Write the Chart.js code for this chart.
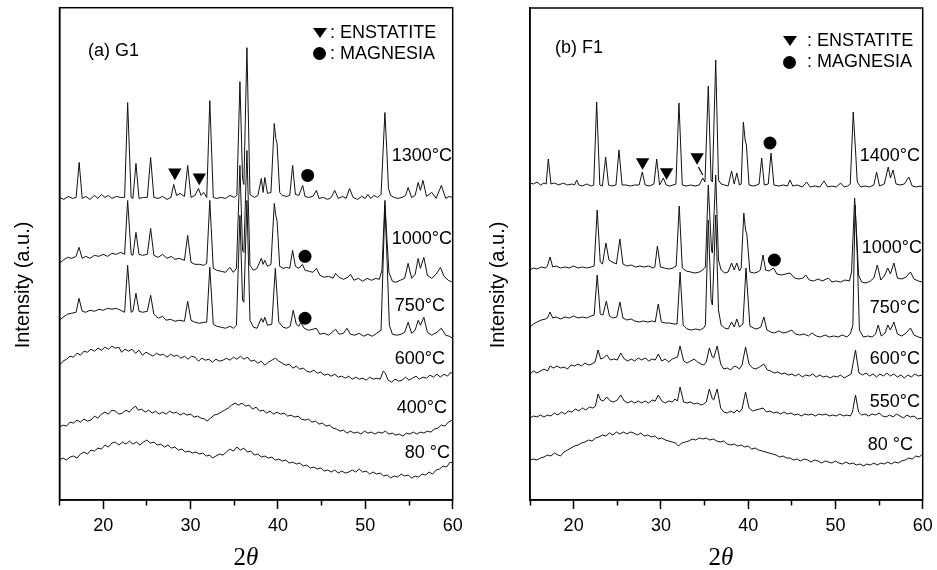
<!DOCTYPE html>
<html>
<head>
<meta charset="utf-8">
<title>XRD patterns - G1 / F1</title>
<script src="https://cdn.jsdelivr.net/npm/chart.js"></script>
<style>
  body { margin: 0; background: #fff; }
  #page { position: relative; width: 937px; height: 570px; overflow: hidden; }
  canvas { position: absolute; top: 0; }
  .t { position: absolute; font: 18px 'Liberation Sans', Arial, sans-serif; line-height: 18px; white-space: nowrap; color: #000; }
  .tri { position: absolute; width: 0; height: 0; border-left: 7px solid transparent; border-right: 7px solid transparent; border-top: 10px solid #000; }
  .dot { position: absolute; width: 13px; height: 13px; border-radius: 50%; background: #000; }
  .xt { position: absolute; width: 100px; text-align: center; font: 25px 'Liberation Serif', 'Times New Roman', serif; line-height: 26px; }
  .yt { position: absolute; width: 200px; margin-left: -100px; text-align: center; font: 20px 'Liberation Sans', Arial, sans-serif; line-height: 20px; margin-top: -10px; transform: rotate(-90deg); white-space: nowrap; }
</style>
</head>
<body>
<div id="page">
  <canvas id="g1" width="468" height="570" style="left:0"></canvas>
  <canvas id="f1" width="469" height="570" style="left:468px"></canvas>

  <!-- panel (a) -->
  <div class="yt" style="left:22px;top:285px">Intensity (a.u.)</div>
  <div class="t" style="left:88px;top:41px">(a) G1</div>
  <div class="tri" style="left:313px;top:28px"></div>
  <div class="t" style="left:330px;top:23px">: ENSTATITE</div>
  <div class="dot" style="left:313px;top:47px"></div>
  <div class="t" style="left:330px;top:44px">: MAGNESIA</div>
  <div class="t" style="right:485px;top:146px">1300°C</div>
  <div class="t" style="right:485px;top:229px">1000°C</div>
  <div class="t" style="right:492px;top:296px">750°C</div>
  <div class="t" style="right:492px;top:349px">600°C</div>
  <div class="t" style="right:490px;top:398px">400°C</div>
  <div class="t" style="right:487px;top:443px">80 °C</div>
  <div class="xt" style="left:196px;top:544px">2<i>θ</i></div>

  <!-- panel (b) -->
  <div class="yt" style="left:497px;top:285px">Intensity (a.u.)</div>
  <div class="t" style="left:555px;top:38px">(b) F1</div>
  <div class="tri" style="left:783px;top:36px"></div>
  <div class="t" style="left:807px;top:31px">: ENSTATITE</div>
  <div class="dot" style="left:783px;top:56px"></div>
  <div class="t" style="left:807px;top:52px">: MAGNESIA</div>
  <div class="t" style="right:17px;top:146px">1400°C</div>
  <div class="t" style="right:15px;top:238px">1000°C</div>
  <div class="t" style="right:17px;top:298px">750°C</div>
  <div class="t" style="right:17px;top:349px">600°C</div>
  <div class="t" style="right:17px;top:392px">550°C</div>
  <div class="t" style="right:24px;top:435px">80 °C</div>
  <div class="xt" style="left:671px;top:544px">2<i>θ</i></div>
</div>

<script>
// 2-theta range and labelled ticks (minor ticks every 5 deg)
const thetaMin = 15;
const thetaMax = 60;
const labelledTicks = [20, 30, 40, 50, 60];

// ---- G1 patterns, [2theta, intensity], stacked offsets included ----
const g1_80 = [[15.0,40],[15.4,42],[15.8,40],[16.2,43],[16.6,44],[17.0,42],[17.4,46],[17.8,48],[18.2,46],[18.6,50],[19.0,49],[19.4,52],[19.8,51],[20.2,55],[20.6,53],[21.0,57],[21.4,58],[21.8,55],[22.2,58],[22.6,56],[23.0,59],[23.4,56],[23.8,58],[24.2,55],[24.6,58],[25.0,60],[25.4,57],[25.8,58],[26.2,55],[26.6,56],[27.0,53],[27.4,55],[27.8,52],[28.2,53],[28.6,50],[29.0,51],[29.4,48],[29.8,49],[30.2,47],[30.6,48],[31.0,46],[31.4,47],[31.8,44],[32.2,45],[32.5,42],[32.9,44],[33.3,46],[33.7,45],[34.1,48],[34.5,51],[34.9,49],[35.3,53],[35.7,50],[36.1,52],[36.5,48],[36.9,49],[37.3,45],[37.7,46],[38.1,43],[38.5,44],[38.9,42],[39.3,43],[39.7,40],[40.1,41],[40.5,39],[40.9,40],[41.3,37],[41.7,38],[42.1,36],[42.5,37],[42.9,34],[43.3,35],[43.7,32],[44.1,33],[44.5,31],[44.9,32],[45.3,29],[45.7,30],[46.1,28],[46.5,30],[46.9,27],[47.3,29],[47.7,27],[48.1,28],[48.5,30],[48.9,28],[49.3,31],[49.7,28],[50.1,29],[50.5,26],[50.9,28],[51.3,26],[51.7,27],[52.1,24],[52.5,25],[52.9,22],[53.3,24],[53.7,23],[54.1,26],[54.5,24],[54.9,25],[55.3,22],[55.7,24],[56.1,23],[56.5,26],[56.9,25],[57.3,28],[57.7,26],[58.1,30],[58.5,31],[58.9,34],[59.3,33],[59.7,38],[60.0,37]];

const g1_400 = [[15.0,73],[15.4,75],[15.8,74],[16.2,78],[16.6,77],[17.0,80],[17.4,78],[17.8,81],[18.2,79],[18.6,80],[19.0,84],[19.4,82],[19.8,86],[20.2,88],[20.6,86],[21.0,90],[21.4,89],[21.8,86],[22.2,87],[22.6,90],[23.0,88],[23.4,92],[23.7,94],[24.0,90],[24.4,91],[24.8,88],[25.2,90],[25.6,87],[26.0,89],[26.4,86],[26.8,88],[27.2,86],[27.6,89],[28.0,87],[28.4,88],[28.8,85],[29.2,87],[29.6,85],[30.0,86],[30.4,83],[30.8,84],[31.2,82],[31.6,81],[31.9,79],[32.3,82],[32.7,85],[33.1,86],[33.5,88],[33.9,90],[34.3,92],[34.7,95],[35.1,97],[35.5,95],[35.9,97],[36.3,94],[36.7,95],[37.1,91],[37.5,93],[37.9,89],[38.3,90],[38.7,87],[39.1,89],[39.5,86],[39.9,88],[40.3,86],[40.7,87],[41.1,84],[41.5,85],[41.9,83],[42.3,84],[42.7,81],[43.1,80],[43.5,81],[43.9,78],[44.3,79],[44.7,76],[45.1,77],[45.5,74],[45.9,75],[46.3,72],[46.7,71],[47.1,69],[47.5,70],[47.9,67],[48.3,69],[48.7,67],[49.1,68],[49.5,66],[49.9,69],[50.3,67],[50.7,68],[51.1,66],[51.5,68],[51.9,67],[52.3,69],[52.7,66],[53.1,67],[53.5,65],[53.9,66],[54.3,64],[54.7,67],[55.1,66],[55.5,68],[55.9,66],[56.3,68],[56.7,67],[57.1,69],[57.5,68],[57.9,71],[58.3,72],[58.7,75],[59.1,74],[59.5,78],[60.0,80]];

const g1_600 = [[15.0,135],[15.4,139],[15.8,141],[16.2,144],[16.6,143],[17.0,147],[17.4,145],[17.8,149],[18.2,148],[18.6,151],[19.0,149],[19.4,152],[19.8,150],[20.2,153],[20.6,151],[21.0,154],[21.4,152],[21.8,153],[22.1,148],[22.5,151],[22.9,149],[23.3,151],[23.7,147],[24.1,150],[24.5,145],[24.9,148],[25.3,146],[25.7,144],[26.1,147],[26.5,145],[26.9,146],[27.3,143],[27.7,146],[28.1,144],[28.5,145],[28.9,142],[29.3,144],[29.7,141],[30.1,144],[30.5,143],[30.9,139],[31.3,142],[31.7,140],[32.1,141],[32.5,138],[32.9,141],[33.3,139],[33.7,140],[34.1,142],[34.5,140],[34.9,143],[35.3,141],[35.7,144],[36.1,141],[36.5,143],[36.9,139],[37.3,140],[37.7,137],[38.1,139],[38.5,135],[38.9,138],[39.3,140],[39.7,142],[40.1,139],[40.5,137],[40.9,135],[41.3,136],[41.7,132],[42.1,134],[42.5,131],[42.9,132],[43.3,129],[43.7,128],[44.1,130],[44.5,127],[44.9,128],[45.3,125],[45.7,126],[46.1,124],[46.5,126],[46.9,123],[47.3,124],[47.7,122],[48.1,124],[48.5,121],[48.9,123],[49.3,121],[49.7,122],[50.1,120],[50.5,123],[50.9,121],[51.3,122],[51.7,121],[52.05,129],[52.3,127],[52.6,120],[53.0,118],[53.4,121],[53.8,119],[54.2,120],[54.6,123],[55.0,120],[55.4,122],[55.8,124],[56.2,121],[56.6,123],[57.0,122],[57.4,125],[57.8,123],[58.2,126],[58.6,123],[59.0,126],[59.4,124],[59.8,128],[60.0,126]];

const g1_750 = [[15.0,180],[15.4,183],[15.9,186],[16.4,187],[16.9,188],[17.23,202],[17.6,189],[18.0,188],[18.5,190],[19.0,189],[19.5,191],[20.0,190],[20.5,192],[21.0,191],[21.5,192],[22.0,190],[22.45,188],[22.8,235],[23.2,188],[23.4,189],[23.75,207],[24.1,189],[24.5,188],[25.05,189],[25.43,205],[25.8,186],[26.3,182],[26.8,184],[27.2,180],[27.7,181],[28.2,179],[28.7,180],[29.3,179],[29.67,199],[30.05,180],[30.5,178],[31.0,177],[31.5,178],[31.85,178],[32.2,233],[32.6,176],[33.0,174],[33.5,173],[34.0,172],[34.5,174],[34.9,172],[35.25,175],[35.65,285],[35.95,200],[36.1,198],[36.45,300],[36.8,180],[37.2,173],[37.6,172],[38.1,182],[38.3,178],[38.5,183],[38.8,175],[39.3,176],[39.7,232],[40.1,178],[40.6,173],[41.0,172],[41.4,174],[41.75,190],[42.1,176],[42.4,174],[42.6,178],[43.0,172],[43.5,170],[44.0,171],[44.4,172],[44.8,166],[45.3,167],[45.8,165],[46.2,168],[46.6,171],[47.0,166],[47.5,167],[47.9,172],[48.3,166],[48.8,165],[49.3,167],[49.8,164],[50.3,166],[50.8,164],[51.3,167],[51.8,170],[52.24,295],[52.45,250],[52.75,175],[53.1,166],[53.6,165],[54.1,166],[54.5,168],[54.9,178],[55.3,167],[55.7,170],[56.05,180],[56.3,175],[56.7,183],[57.1,168],[57.6,165],[58.2,168],[58.7,172],[59.2,165],[59.6,164],[60.0,162]];

const g1_1000 = [[15.0,237],[15.4,240],[15.9,243],[16.4,242],[16.9,244],[17.23,253],[17.6,242],[18.0,244],[18.5,242],[19.0,245],[19.5,244],[20.0,246],[20.5,244],[21.0,247],[21.5,246],[22.0,248],[22.45,246],[22.8,300],[23.2,246],[23.4,245],[23.75,268],[24.1,246],[24.5,245],[25.05,246],[25.43,272],[25.8,245],[26.3,243],[26.8,246],[27.3,242],[27.8,244],[28.2,241],[28.7,242],[29.3,240],[29.67,265],[30.05,238],[30.5,236],[31.0,236],[31.5,235],[31.85,237],[32.2,300],[32.6,232],[33.0,230],[33.5,229],[34.0,228],[34.5,233],[34.9,228],[35.25,232],[35.65,335],[35.95,250],[36.1,248],[36.45,350],[36.8,235],[37.2,230],[37.6,232],[38.1,242],[38.3,236],[38.5,240],[38.8,234],[39.2,236],[39.58,297],[39.75,285],[39.9,280],[40.2,234],[40.6,232],[41.0,233],[41.35,232],[41.68,250],[42.0,234],[42.4,232],[42.8,236],[43.1,230],[43.6,229],[44.0,228],[44.4,232],[44.8,225],[45.3,223],[45.8,224],[46.3,222],[46.6,227],[47.0,223],[47.5,221],[48.0,223],[48.3,226],[48.7,220],[49.2,222],[49.7,219],[50.2,222],[50.7,220],[51.2,222],[51.6,221],[51.9,230],[52.24,300],[52.45,265],[52.7,228],[53.1,219],[53.5,218],[54.0,220],[54.5,222],[54.9,237],[55.3,222],[55.7,226],[56.05,242],[56.3,232],[56.7,243],[57.1,225],[57.6,222],[58.1,226],[58.6,233],[59.0,224],[59.5,220],[60.0,218]];

const g1_1300 = [[15.0,303],[15.5,301],[16.0,304],[16.5,302],[16.9,303],[17.25,338],[17.6,302],[18.0,304],[18.5,301],[19.0,305],[19.4,302],[19.8,306],[20.2,303],[20.6,305],[21.0,302],[21.5,304],[22.0,303],[22.45,303],[22.8,398],[23.2,303],[23.4,302],[23.75,337],[24.1,302],[24.6,303],[25.05,303],[25.43,343],[25.8,303],[26.3,302],[26.8,304],[27.3,301],[27.75,303],[28.07,316],[28.4,305],[28.8,307],[29.3,304],[29.67,335],[30.05,303],[30.5,305],[30.9,312],[31.2,305],[31.5,308],[31.85,303],[32.2,400],[32.6,303],[33.0,302],[33.5,303],[34.0,302],[34.5,305],[35.0,303],[35.3,305],[35.65,419],[35.95,322],[36.1,316],[36.45,453],[36.8,306],[37.3,303],[37.7,305],[38.1,322],[38.3,308],[38.5,323],[38.8,307],[39.2,308],[39.58,377],[39.75,362],[39.9,357],[40.2,308],[40.5,305],[41.0,304],[41.35,305],[41.68,335],[42.0,306],[42.4,305],[42.83,315],[43.1,304],[43.5,303],[44.0,304],[44.4,310],[44.7,302],[45.2,303],[45.7,301],[46.1,303],[46.5,310],[46.9,302],[47.4,304],[47.8,302],[48.2,312],[48.6,303],[49.1,301],[49.6,304],[50.0,302],[50.3,306],[50.6,302],[51.0,305],[51.4,303],[51.8,306],[52.24,388],[52.45,352],[52.65,312],[52.9,305],[53.3,303],[53.7,302],[54.2,303],[54.6,305],[54.9,313],[55.3,303],[55.7,305],[56.05,318],[56.3,310],[56.6,320],[57.0,304],[57.6,308],[58.1,302],[58.7,315],[59.2,302],[59.6,304],[60.0,303]];

// phase markers for G1
const g1Enstatite = [[28.2,328],[31.0,323]];
const g1Magnesia = [[43.4,325],[43.1,244],[43.1,182]];

// ---- F1 patterns ----
const f1_80 = [[15.0,40],[15.4,41],[15.8,40],[16.2,42],[16.6,43],[17.0,45],[17.4,44],[17.8,47],[18.2,45],[18.5,44],[18.9,48],[19.3,50],[19.7,52],[20.1,54],[20.5,55],[20.9,57],[21.3,58],[21.7,60],[22.1,59],[22.5,62],[22.9,63],[23.3,65],[23.7,64],[24.1,67],[24.5,65],[24.9,68],[25.3,66],[25.7,68],[26.1,66],[26.5,68],[26.9,67],[27.3,65],[27.7,67],[28.1,64],[28.5,65],[28.9,63],[29.3,64],[29.7,61],[30.1,62],[30.5,60],[30.9,59],[31.3,58],[31.7,57],[32.0,54],[32.4,57],[32.8,58],[33.2,59],[33.6,61],[34.0,60],[34.4,62],[34.8,61],[35.2,62],[35.6,60],[36.0,61],[36.4,59],[36.8,58],[37.2,59],[37.6,56],[38.0,55],[38.4,56],[38.8,54],[39.2,55],[39.6,53],[40.0,54],[40.4,51],[40.8,52],[41.2,50],[41.6,49],[42.0,48],[42.4,47],[42.8,46],[43.2,45],[43.6,43],[44.0,44],[44.4,42],[44.8,42],[45.2,40],[45.6,41],[46.0,39],[46.4,41],[46.8,40],[47.2,38],[47.6,40],[48.0,39],[48.4,37],[48.8,39],[49.2,38],[49.6,37],[50.0,39],[50.4,37],[50.8,36],[51.2,38],[51.6,36],[52.0,37],[52.4,35],[52.8,36],[53.2,34],[53.6,36],[54.0,35],[54.4,37],[54.8,35],[55.2,37],[55.6,36],[56.0,38],[56.4,36],[56.8,38],[57.2,37],[57.6,39],[58.0,40],[58.4,42],[58.8,41],[59.2,44],[59.6,43],[60.0,46]];

const f1_550 = [[15.0,82],[15.4,84],[15.8,83],[16.2,85],[16.6,83],[17.0,85],[17.4,84],[17.8,87],[18.2,85],[18.6,88],[19.0,86],[19.4,89],[19.8,88],[20.2,91],[20.6,89],[21.0,92],[21.4,90],[21.8,93],[22.2,92],[22.5,94],[22.8,106],[23.1,100],[23.4,99],[23.8,103],[24.2,99],[24.6,98],[25.0,100],[25.4,105],[25.8,99],[26.2,97],[26.6,99],[27.0,97],[27.4,99],[27.8,97],[28.2,99],[28.6,97],[29.0,100],[29.35,99],[29.7,105],[30.1,99],[30.5,97],[30.9,99],[31.3,98],[31.6,101],[31.9,99],[32.2,113],[32.6,98],[33.0,97],[33.4,98],[33.8,96],[34.2,97],[34.6,95],[34.9,96],[35.2,98],[35.55,111],[35.9,101],[36.05,100],[36.45,111],[36.85,92],[37.2,88],[37.6,87],[38.0,89],[38.4,87],[38.7,90],[39.0,88],[39.3,91],[39.7,108],[40.1,92],[40.5,89],[40.9,90],[41.3,91],[41.7,92],[42.1,88],[42.5,89],[42.9,87],[43.3,88],[43.7,86],[44.1,88],[44.5,86],[44.9,87],[45.3,85],[45.7,86],[46.1,84],[46.5,86],[46.9,85],[47.3,86],[47.7,84],[48.1,86],[48.5,85],[48.9,86],[49.3,84],[49.7,85],[50.1,84],[50.5,86],[50.9,84],[51.3,85],[51.7,84],[51.95,88],[52.3,105],[52.65,88],[53.0,85],[53.4,86],[53.8,84],[54.2,86],[54.6,85],[55.0,87],[55.4,84],[55.8,83],[56.2,85],[56.6,83],[57.0,86],[57.4,84],[57.8,82],[58.2,85],[58.6,83],[59.0,84],[59.4,81],[60.0,82]];

const f1_600 = [[15.0,126],[15.4,129],[15.8,127],[16.2,129],[16.6,131],[17.0,129],[17.3,134],[17.7,132],[18.1,134],[18.5,132],[18.9,133],[19.3,131],[19.7,135],[20.1,134],[20.5,136],[20.9,134],[21.3,137],[21.7,135],[22.1,136],[22.45,138],[22.8,150],[23.1,141],[23.4,142],[23.8,145],[24.2,140],[24.6,141],[25.0,140],[25.4,147],[25.8,141],[26.2,139],[26.6,141],[27.0,139],[27.4,142],[27.8,140],[28.2,142],[28.6,139],[29.0,141],[29.35,140],[29.7,146],[30.1,139],[30.5,141],[30.9,138],[31.3,141],[31.6,142],[31.9,143],[32.2,154],[32.6,139],[33.0,137],[33.4,139],[33.8,141],[34.2,138],[34.6,136],[34.9,135],[35.2,138],[35.55,152],[35.9,143],[36.05,142],[36.45,154],[36.85,136],[37.2,131],[37.6,132],[38.0,130],[38.4,134],[38.7,133],[39.0,131],[39.3,135],[39.7,153],[40.1,136],[40.5,132],[40.9,131],[41.3,133],[41.8,136],[42.2,130],[42.6,129],[43.0,127],[43.4,128],[43.8,126],[44.2,127],[44.6,125],[45.0,126],[45.4,124],[45.8,126],[46.2,123],[46.6,125],[47.0,124],[47.4,126],[47.8,123],[48.2,125],[48.6,123],[49.0,124],[49.4,122],[49.8,124],[50.2,123],[50.6,125],[51.0,122],[51.4,124],[51.8,126],[52.3,150],[52.7,127],[53.1,125],[53.5,127],[53.9,124],[54.3,126],[54.7,123],[55.1,126],[55.5,124],[55.9,127],[56.3,124],[56.7,126],[57.1,123],[57.5,125],[57.9,122],[58.3,125],[58.7,123],[59.1,126],[59.5,124],[60.0,125]];

const f1_750 = [[15.0,173],[15.4,176],[15.8,178],[16.3,180],[16.8,181],[17.0,182],[17.3,188],[17.6,182],[18.0,183],[18.5,181],[19.0,183],[19.5,182],[20.0,184],[20.5,182],[21.0,183],[21.5,182],[22.0,184],[22.35,185],[22.7,225],[23.05,186],[23.35,185],[23.75,199],[24.1,184],[24.5,182],[24.95,183],[25.3,198],[25.65,182],[26.1,180],[26.6,181],[27.0,179],[27.5,178],[28.0,179],[28.5,178],[29.0,179],[29.35,178],[29.7,196],[30.05,178],[30.5,177],[31.0,177],[31.5,176],[31.85,176],[32.2,228],[32.55,175],[33.0,171],[33.5,170],[34.0,171],[34.5,170],[34.9,172],[35.1,175],[35.43,280],[35.75,200],[35.9,195],[36.28,285],[36.6,190],[36.9,175],[37.3,172],[37.7,171],[38.1,178],[38.4,173],[38.7,181],[39.0,173],[39.4,176],[39.75,232],[40.2,174],[40.6,172],[41.0,171],[41.45,173],[41.8,183],[42.15,170],[42.6,168],[43.0,167],[43.5,169],[44.0,167],[44.5,168],[45.0,170],[45.4,166],[45.9,165],[46.4,166],[46.9,164],[47.3,167],[47.8,164],[48.3,163],[48.8,165],[49.3,163],[49.8,164],[50.3,163],[50.8,165],[51.3,163],[51.7,166],[52.0,175],[52.25,295],[52.5,245],[52.75,170],[53.2,163],[53.7,164],[54.2,163],[54.6,166],[54.9,175],[55.25,164],[55.7,167],[56.0,175],[56.3,170],[56.7,178],[57.1,166],[57.6,164],[58.1,167],[58.6,172],[59.0,165],[59.5,163],[60.0,162]];

const f1_1000 = [[15.0,230],[15.4,232],[15.8,231],[16.3,233],[16.8,232],[17.0,234],[17.3,243],[17.6,233],[18.0,234],[18.5,232],[19.0,233],[19.5,232],[20.0,234],[20.5,232],[21.0,233],[21.5,232],[22.0,233],[22.35,234],[22.7,290],[23.05,238],[23.3,236],[23.7,257],[24.05,240],[24.4,238],[24.9,236],[25.3,261],[25.65,236],[26.1,234],[26.6,235],[27.1,233],[27.6,234],[28.1,233],[28.6,234],[29.1,232],[29.3,233],[29.6,254],[29.95,233],[30.4,232],[30.9,231],[31.4,232],[31.75,234],[32.1,294],[32.45,232],[32.9,229],[33.4,228],[33.9,227],[34.4,228],[34.8,230],[35.1,233],[35.43,315],[35.8,250],[35.9,247],[36.28,325],[36.6,240],[36.9,230],[37.3,227],[37.7,228],[38.1,237],[38.4,230],[38.7,237],[39.0,229],[39.2,232],[39.5,287],[39.7,270],[39.85,266],[40.2,228],[40.7,227],[41.1,228],[41.4,230],[41.7,245],[42.0,230],[42.4,229],[42.9,232],[43.3,226],[43.8,225],[44.3,226],[44.8,227],[45.3,222],[45.8,221],[46.3,222],[46.6,225],[47.0,220],[47.5,219],[48.0,221],[48.5,219],[49.2,222],[49.6,218],[50.1,219],[50.6,218],[51.1,220],[51.6,219],[51.85,228],[52.2,302],[52.45,262],[52.65,225],[53.0,218],[53.5,217],[54.0,219],[54.4,222],[54.8,235],[55.2,220],[55.6,224],[56.0,232],[56.3,226],[56.7,237],[57.1,222],[57.6,221],[58.1,223],[58.6,228],[59.0,221],[59.5,219],[60.0,218]];

const f1_1400 = [[15.0,317],[15.4,316],[15.8,318],[16.2,315],[16.6,317],[16.85,316],[17.1,341],[17.4,316],[17.8,317],[18.3,315],[18.8,317],[19.3,315],[19.8,316],[20.1,315],[20.35,320],[20.6,315],[21.0,314],[21.5,316],[22.0,314],[22.3,315],[22.64,398],[23.0,315],[23.3,314],[23.67,343],[24.0,315],[24.4,314],[24.85,315],[25.2,350],[25.55,315],[26.0,315],[26.5,314],[27.0,315],[27.5,315],[27.87,328],[28.2,315],[28.7,314],[29.2,316],[29.52,341],[29.85,315],[30.28,322],[30.6,315],[31.0,314],[31.4,315],[31.72,316],[32.07,397],[32.45,315],[32.9,314],[33.4,315],[33.9,314],[34.4,315],[34.8,322],[35.05,318],[35.43,414],[35.75,320],[35.9,318],[36.28,440],[36.6,320],[36.9,316],[37.3,315],[37.7,314],[38.1,329],[38.4,316],[38.7,327],[39.0,315],[39.2,316],[39.45,378],[39.65,360],[39.8,355],[40.1,315],[40.6,314],[41.0,315],[41.25,316],[41.55,342],[41.85,315],[42.3,316],[42.62,347],[42.95,315],[43.5,314],[44.0,315],[44.5,314],[44.8,320],[45.1,314],[45.6,315],[46.2,313],[46.7,318],[47.1,313],[47.7,314],[48.2,313],[48.7,319],[49.1,313],[49.6,314],[50.1,313],[50.6,317],[51.0,313],[51.4,314],[51.7,316],[52.04,388],[52.3,350],[52.5,318],[52.9,313],[53.4,314],[53.9,313],[54.4,315],[54.72,328],[55.05,314],[55.6,316],[56.05,333],[56.3,322],[56.6,330],[56.95,316],[57.4,315],[57.9,316],[58.4,323],[58.8,314],[59.3,313],[59.7,314],[60.0,313]];

// phase markers for F1 (plus the short pointer under the third triangle)
const f1Enstatite = [[27.9,338],[30.65,328],[34.15,343]];
const f1Magnesia = [[42.5,357],[43.0,240]];
const f1Pointer = [[34.3,333],[34.8,325]];

const FONT = "'Liberation Sans', Arial, sans-serif";
Chart.defaults.font.family = FONT;
Chart.defaults.color = '#000';

function pts(arr) {
  return arr.map(p => ({ x: p[0], y: p[1] }));
}

// closes the box around the plot area
const frameBox = {
  id: 'frameBox',
  afterDraw(chart) {
    const { ctx, chartArea: a } = chart;
    ctx.save();
    ctx.strokeStyle = '#000';
    ctx.lineWidth = 1.5;
    ctx.strokeRect(a.left, a.top, a.right - a.left, a.bottom - a.top);
    ctx.restore();
  }
};

function makePanel(id, traces, enstatite, magnesia, pointer, cfg) {
  const datasets = traces.map(t => ({
    type: 'line',
    data: pts(t),
    borderColor: '#111',
    borderWidth: 1,
    pointRadius: 0,
    tension: 0
  }));
  if (pointer) {
    datasets.push({ type: 'line', data: pts(pointer), borderColor: '#000', borderWidth: 1.2, pointRadius: 0 });
  }
  datasets.push({
    type: 'scatter', data: pts(enstatite),
    pointStyle: 'triangle', rotation: 180, pointRadius: 7.7,
    backgroundColor: '#000', borderColor: '#000', borderWidth: 0
  });
  datasets.push({
    type: 'scatter', data: pts(magnesia),
    pointStyle: 'circle', pointRadius: 6.5,
    backgroundColor: '#000', borderColor: '#000', borderWidth: 0
  });

  return new Chart(document.getElementById(id), {
    type: 'line',
    data: { datasets },
    plugins: [frameBox],
    options: {
      responsive: false,
      animation: false,
      events: [],
      layout: { padding: { left: 0, top: cfg.top, right: cfg.right, bottom: 0 } },
      plugins: { legend: { display: false }, tooltip: { enabled: false } },
      scales: {
        x: {
          type: 'linear',
          min: thetaMin,
          max: thetaMax,
          ticks: {
            stepSize: 5,
            autoSkip: false,
            maxRotation: 0,
            padding: 6,
            font: { size: 18 },
            color: '#000',
            callback: v => labelledTicks.includes(v) ? String(v) : ''
          },
          grid: {
            drawOnChartArea: false,
            tickLength: 9,
            tickWidth: 1.5,
            tickColor: '#000',
            // minor ticks are shorter: only the first 5px of the mark is drawn
            tickBorderDash: ctx => (ctx.tick && !labelledTicks.includes(ctx.tick.value)) ? [5, 30] : []
          },
          border: { color: '#000', width: 1.5 },
          afterFit: s => { s.height = 70; s.paddingLeft = 0; s.paddingRight = 0; }
        },
        y: {
          min: 0,
          max: cfg.yMax,
          ticks: { display: false },
          grid: { display: false },
          border: { color: '#000', width: 1.5 },
          afterFit: s => { s.width = cfg.yWidth; }
        }
      }
    }
  });
}

makePanel('g1', [g1_80, g1_400, g1_600, g1_750, g1_1000, g1_1300], g1Enstatite, g1Magnesia, null,
  { top: 7, right: 15.3, yWidth: 59.5, yMax: 493 });
makePanel('f1', [f1_80, f1_550, f1_600, f1_750, f1_1000, f1_1400], f1Enstatite, f1Magnesia, f1Pointer,
  { top: 8, right: 14.3, yWidth: 62, yMax: 492 });
</script>
</body>
</html>
